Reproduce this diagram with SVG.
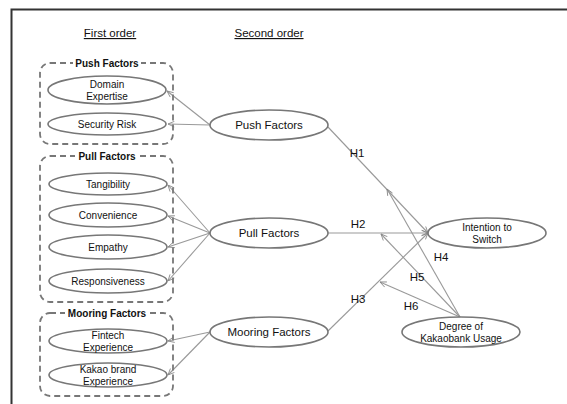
<svg xmlns="http://www.w3.org/2000/svg" width="567" height="404" viewBox="0 0 567 404">
<defs>
<marker id="arr" viewBox="0 0 10 10" refX="10" refY="5" markerWidth="7" markerHeight="7" orient="auto" markerUnits="userSpaceOnUse">
<path d="M1,1 L10,5 L1,9" fill="none" stroke="#888" stroke-width="1.2"/>
</marker>
</defs>
<style>
.frame{fill:none;stroke:#333;stroke-width:2}
.grp{fill:none;stroke:#777;stroke-width:1.8;stroke-dasharray:6 4}
.el{fill:#fff;stroke:#777;stroke-width:1.6}
.ln{fill:none;stroke:#999;stroke-width:1.1;marker-end:url(#arr)}
text{font-family:"Liberation Sans",Arial,sans-serif;fill:#111;text-anchor:middle}
.t1{font-size:10px}
.t2{font-size:11.5px}
.gl{font-size:10px;font-weight:bold}
.hd{font-size:11.5px;text-decoration:underline}
.h{font-size:11.5px}
</style>
<rect width="567" height="404" fill="#fff"/>
<path class="frame" d="M11.5,404 V9.5 H567"/>
<text class="hd" x="110" y="37">First order</text>
<text class="hd" x="269" y="37">Second order</text>

<g id="connectors">
<line class="ln" x1="210" y1="125" x2="167" y2="91"/>
<line class="ln" x1="210" y1="125" x2="168" y2="124"/>
<line class="ln" x1="210" y1="233" x2="168" y2="185"/>
<line class="ln" x1="210" y1="233" x2="168" y2="216"/>
<line class="ln" x1="210" y1="233" x2="168" y2="247"/>
<line class="ln" x1="210" y1="233" x2="168" y2="281"/>
<line class="ln" x1="210" y1="332" x2="168" y2="341"/>
<line class="ln" x1="210" y1="332" x2="168" y2="375"/>
<line class="ln" x1="328" y1="127" x2="428" y2="233"/>
<line class="ln" x1="328" y1="233" x2="428" y2="233"/>
<line class="ln" x1="328" y1="331" x2="428" y2="233"/>
<line class="ln" x1="460" y1="317" x2="387" y2="189"/>
<line class="ln" x1="460" y1="317" x2="381" y2="234"/>
<line class="ln" x1="460" y1="317" x2="380" y2="282"/>
<text class="h" x="357" y="157">H1</text>
<text class="h" x="358" y="228">H2</text>
<text class="h" x="358" y="303">H3</text>
<text class="h" x="441" y="261">H4</text>
<text class="h" x="417" y="281">H5</text>
<text class="h" x="411" y="310">H6</text>
</g>

<g id="push-group">
<rect class="grp" x="40" y="63" width="133" height="81" rx="10"/>
<rect x="73" y="58" width="68" height="12" fill="#fff"/>
<text class="gl" x="107" y="67">Push Factors</text>
</g>
<g id="domain-expertise">
<ellipse class="el" cx="107" cy="90" rx="59" ry="14"/>
<text class="t1" x="107" y="87.5">Domain</text>
<text class="t1" x="107" y="99.5">Expertise</text>
</g>
<g id="security-risk">
<ellipse class="el" cx="107" cy="124" rx="59" ry="11"/>
<text class="t1" x="107" y="127.5">Security Risk</text>
</g>

<g id="pull-group">
<rect class="grp" x="40" y="156" width="133" height="146" rx="10"/>
<rect x="75" y="151" width="64" height="12" fill="#fff"/>
<text class="gl" x="107" y="160">Pull Factors</text>
</g>
<g id="tangibility">
<ellipse class="el" cx="108" cy="184" rx="59" ry="11"/>
<text class="t1" x="108" y="187.5">Tangibility</text>
</g>
<g id="convenience">
<ellipse class="el" cx="108" cy="215" rx="59" ry="12"/>
<text class="t1" x="108" y="218.5">Convenience</text>
</g>
<g id="empathy">
<ellipse class="el" cx="108" cy="247" rx="59" ry="12"/>
<text class="t1" x="108" y="250.5">Empathy</text>
</g>
<g id="responsiveness">
<ellipse class="el" cx="108" cy="281" rx="59" ry="12"/>
<text class="t1" x="108" y="284.5">Responsiveness</text>
</g>

<g id="mooring-group">
<rect class="grp" x="40" y="313" width="133" height="83" rx="10"/>
<rect x="65" y="308" width="84" height="12" fill="#fff"/>
<text class="gl" x="107" y="317">Mooring Factors</text>
</g>
<g id="fintech-experience">
<ellipse class="el" cx="108" cy="341" rx="59" ry="12"/>
<text class="t1" x="108" y="338.5">Fintech</text>
<text class="t1" x="108" y="350.5">Experience</text>
</g>
<g id="kakao-brand-experience">
<ellipse class="el" cx="108" cy="375" rx="59" ry="12"/>
<text class="t1" x="108" y="372.5">Kakao brand</text>
<text class="t1" x="108" y="384.5">Experience</text>
</g>

<g id="push-factors">
<ellipse class="el" cx="269" cy="125" rx="59" ry="15"/>
<text class="t2" x="269" y="129">Push Factors</text>
</g>
<g id="pull-factors">
<ellipse class="el" cx="269" cy="233" rx="59" ry="15"/>
<text class="t2" x="269" y="237">Pull Factors</text>
</g>
<g id="mooring-factors">
<ellipse class="el" cx="269" cy="332" rx="59" ry="15"/>
<text class="t2" x="269" y="336">Mooring Factors</text>
</g>
<g id="intention-to-switch">
<ellipse class="el" cx="487" cy="233" rx="59" ry="15"/>
<text class="t1" x="487" y="230.5">Intention to</text>
<text class="t1" x="487" y="242.5">Switch</text>
</g>
<g id="degree-of-kakaobank-usage">
<ellipse class="el" cx="461" cy="332" rx="59" ry="15"/>
<text class="t1" x="461" y="329.5">Degree of</text>
<text class="t1" x="461" y="341.5">Kakaobank Usage</text>
</g>
</svg>
